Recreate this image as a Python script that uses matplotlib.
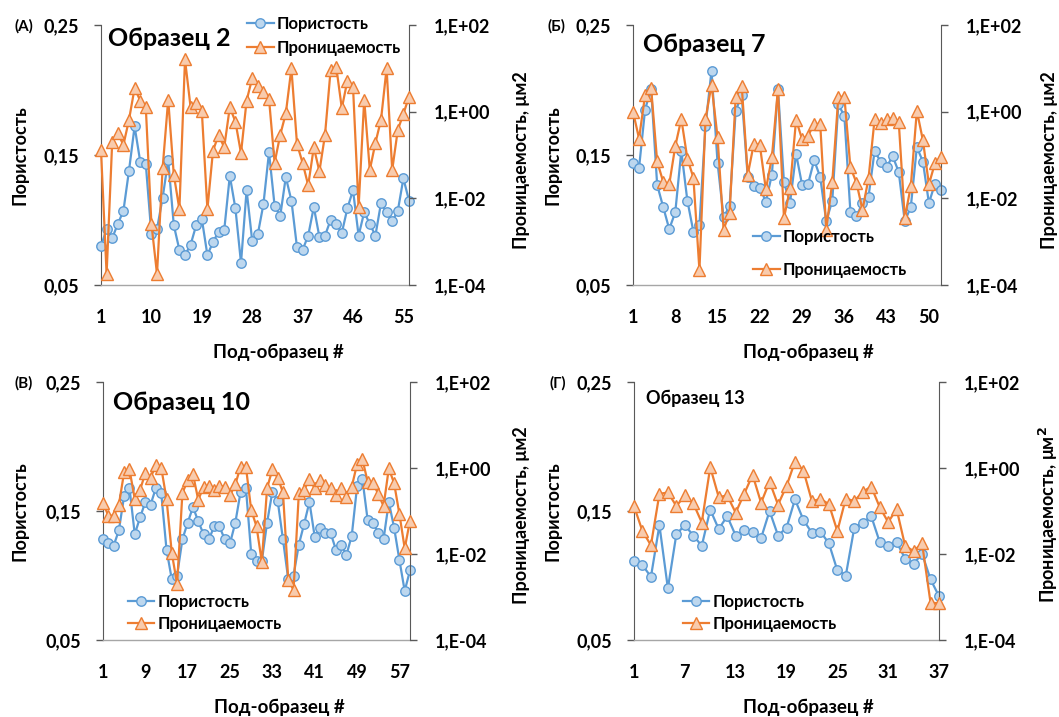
import numpy as np
import matplotlib
matplotlib.use("Agg")
import matplotlib.pyplot as plt
from matplotlib.ticker import NullLocator

plt.rcParams['font.family'] = ['Lato', 'DejaVu Sans']
plt.rcParams['font.weight'] = 'bold'

# ---------------- data ----------------
por_label = "Пористость"
perm_label = "Проницаемость"
xlabel = "Под-образец #"

titles = ["Образец 2", "Образец 7", "Образец 10", "Образец 13"]
panel_tags = ["(А)", "(Б)", "(В)", "(Г)"]

xticks_A = [1, 10, 19, 28, 37, 46, 55]
xticks_B = [1, 8, 15, 22, 29, 36, 43, 50]
xticks_C = [1, 9, 17, 25, 33, 41, 49, 57]
xticks_D = [1, 7, 13, 19, 25, 31, 37]

por_A = [0.080, 0.093, 0.086, 0.097, 0.107, 0.138, 0.172, 0.145, 0.143, 0.089,
         0.093, 0.117, 0.146, 0.096, 0.077, 0.073, 0.081, 0.096, 0.101, 0.073,
         0.083, 0.091, 0.092, 0.134, 0.109, 0.067, 0.123, 0.084, 0.089, 0.112,
         0.152, 0.111, 0.103, 0.133, 0.115, 0.079, 0.077, 0.088, 0.110, 0.087,
         0.088, 0.100, 0.097, 0.090, 0.109, 0.123, 0.088, 0.106, 0.097, 0.088,
         0.113, 0.106, 0.099, 0.107, 0.132, 0.115]
perm_A = [0.13, 1.8e-4, 0.20, 0.32, 0.17, 0.65, 3.5, 1.8, 1.26, 2.6e-3,
          1.8e-4, 0.049, 1.9, 0.035, 5.6e-3, 16, 1.26, 1.6, 1.05, 5.6e-3,
          0.126, 0.29, 0.15, 1.26, 0.59, 0.11, 1.8, 5.9, 4.0, 2.9,
          2.0, 0.066, 0.29, 0.91, 10, 0.18, 0.066, 0.020, 0.15, 0.042,
          0.29, 9.1, 11, 1.2, 5.2, 3.8, 6.2e-3, 1.9, 0.045, 0.19,
          0.65, 10, 0.045, 0.38, 0.89, 2.2]

por_B = [0.144, 0.140, 0.185, 0.201, 0.127, 0.110, 0.093, 0.106, 0.153, 0.115,
         0.091, 0.096, 0.172, 0.215, 0.144, 0.102, 0.111, 0.184, 0.196, 0.133,
         0.126, 0.125, 0.114, 0.135, 0.201, 0.129, 0.113, 0.151, 0.127, 0.128,
         0.146, 0.133, 0.099, 0.115, 0.189, 0.180, 0.106, 0.103, 0.113, 0.118,
         0.153, 0.145, 0.141, 0.149, 0.137, 0.099, 0.110, 0.156, 0.145, 0.113,
         0.128, 0.123]
perm_B = [1.0, 0.24, 2.4, 3.5, 0.071, 0.024, 0.021, 0.16, 0.68, 0.083,
          0.030, 2.2e-4, 0.66, 4.2, 0.26, 1.9e-3, 4.7e-3, 2.2, 4.0, 0.035,
          0.18, 0.17, 0.016, 0.089, 3.3, 3.5e-3, 0.017, 0.65, 0.23, 0.28,
          0.52, 0.52, 1.9e-3, 0.024, 2.2, 2.2, 0.052, 0.023, 5.4e-3, 0.029,
          0.66, 0.54, 0.66, 0.72, 0.59, 3.5e-3, 0.019, 1.05, 0.22, 0.021,
          0.065, 0.091]

por_C = [0.128, 0.125, 0.123, 0.135, 0.162, 0.168, 0.132, 0.145, 0.157, 0.155,
         0.168, 0.164, 0.120, 0.097, 0.100, 0.128, 0.141, 0.153, 0.142, 0.132,
         0.128, 0.138, 0.138, 0.128, 0.125, 0.141, 0.165, 0.168, 0.117, 0.111,
         0.111, 0.141, 0.165, 0.158, 0.128, 0.097, 0.100, 0.124, 0.140, 0.157,
         0.130, 0.137, 0.133, 0.133, 0.120, 0.124, 0.116, 0.131, 0.169, 0.175,
         0.143, 0.141, 0.133, 0.128, 0.157, 0.137, 0.112, 0.088, 0.104]
perm_C = [0.155, 0.078, 0.078, 0.14, 0.81, 0.93, 0.19, 0.31, 0.76, 0.60,
          1.17, 1.02, 0.19, 0.0105, 2.0e-3, 0.26, 0.52, 0.72, 0.18, 0.37,
          0.38, 0.31, 0.38, 0.37, 0.23, 0.42, 1.07, 1.07, 0.105, 0.044,
          6.6e-3, 0.34, 0.93, 0.60, 0.27, 2.5e-3, 1.45e-3, 0.26, 0.31, 0.55,
          0.34, 0.52, 0.40, 0.35, 0.23, 0.34, 0.21, 0.37, 1.23, 1.62,
          0.48, 0.44, 0.25, 0.13, 0.98, 0.44, 0.085, 0.0135, 0.060]

por_D = [0.111, 0.108, 0.099, 0.139, 0.090, 0.132, 0.139, 0.131, 0.123, 0.151,
         0.136, 0.146, 0.131, 0.135, 0.134, 0.129, 0.150, 0.131, 0.137, 0.159,
         0.143, 0.133, 0.134, 0.125, 0.104, 0.100, 0.137, 0.141, 0.146, 0.126,
         0.123, 0.126, 0.113, 0.109, 0.117, 0.097, 0.084]
perm_D = [0.13, 0.034, 0.016, 0.25, 0.27, 0.13, 0.23, 0.15, 0.054, 1.05,
          0.21, 0.23, 0.091, 0.25, 0.69, 0.155, 0.48, 0.14, 0.38, 1.41,
          0.87, 0.17, 0.19, 0.145, 0.034, 0.195, 0.17, 0.28, 0.37, 0.123,
          0.055, 0.11, 0.0155, 0.0117, 0.0178, 7.4e-4, 7.1e-4]

por_ticks = [0.05, 0.15, 0.25]
por_ticklabels = ["0,05", "0,15", "0,25"]
perm_ticks = [1e-4, 1e-2, 1e0, 1e2]
perm_ticklabels = ["1,E-04", "1,E-02", "1,E+00", "1,E+02"]

# ---------------- style ----------------
W, H = 1059, 717
BLUE, BLUE_F = "#5B9BD5", "#BDD7EE"
ORANGE, ORANGE_F = "#ED7D31", "#F8CBAD"
SPINE = "#595959"
AXGRAY = "#A6A6A6"

fig = plt.figure(figsize=(W / 100, H / 100), dpi=100)


def rect_px(x0, y0, x1, y1):
    return [x0 / W, 1 - y1 / H, (x1 - x0) / W, (y1 - y0) / H]


def ftext(x, y, s, **kw):
    fig.text(x / W, 1 - y / H, s, **kw)


panels = [
    dict(rect=(101, 25, 409, 285), por=por_A, perm=perm_A, xt=xticks_A,
         leg=(0.474, 1.035), lsp=0.5, title=(108, 38, 18), tag=(33, 26),
         ylab_l=(20, 155), ylab_r=(521, 160), xlab=(278, 352),
         rlab=perm_label + ", μм2"),
    dict(rect=(633, 25, 941, 285), por=por_B, perm=perm_B, xt=xticks_B,
         leg=(0.39, 0.215), lsp=1.0, title=(643, 45, 18), tag=(566, 26),
         ylab_l=(553, 155), ylab_r=(1049, 160), xlab=(808, 352),
         rlab=perm_label + ", μм2"),
    dict(rect=(103, 382, 410, 640), por=por_C, perm=perm_C, xt=xticks_C,
         leg=(0.08, 0.18), lsp=0.4, title=(113, 402, 18), tag=(33, 383),
         ylab_l=(20, 511), ylab_r=(521, 515), xlab=(279, 707),
         rlab=perm_label + ", μм2"),
    dict(rect=(634, 382, 939, 640), por=por_D, perm=perm_D, xt=xticks_D,
         leg=(0.16, 0.18), lsp=0.4, title=(646, 398, 13), tag=(566, 383),
         ylab_l=(553, 511), ylab_r=(1048, 515), xlab=(808, 707),
         rlab=perm_label + ", μм$^{2}$"),
]

for i, p in enumerate(panels):
    ax = fig.add_axes(rect_px(*p["rect"]))
    n = len(p["por"])
    x = np.arange(1, n + 1)
    l1, = ax.plot(x, p["por"], color=BLUE, lw=1.6, marker="o", ms=6.8,
                  mfc=BLUE_F, mec=BLUE, mew=1.0, clip_on=False, zorder=3)
    ax.set_ylim(0.05, 0.25)
    ax.set_xlim(1, n)
    ax.set_yticks(por_ticks)
    ax.set_yticklabels(por_ticklabels, fontweight="bold")
    ax.set_xticks(p["xt"])
    ax.set_xticklabels([str(t) for t in p["xt"]], fontweight="bold")
    ax.tick_params(axis="y", direction="out", length=5, width=1.0,
                   color=SPINE, pad=11, labelsize=13)
    ax.tick_params(axis="x", length=0, pad=17, labelsize=13)
    for s in ("top", "right"):
        ax.spines[s].set_visible(False)
    ax.spines["left"].set_color(SPINE)
    ax.spines["bottom"].set_color(AXGRAY)
    ax.spines["bottom"].set_linewidth(1.0)

    ax2 = ax.twinx()
    l2, = ax2.plot(x, p["perm"], color=ORANGE, lw=1.6, marker="^", ms=8,
                   mfc=ORANGE_F, mec=ORANGE, mew=1.0, clip_on=False, zorder=3)
    ax2.set_yscale("log")
    ax2.set_ylim(1e-4, 1e2)
    ax2.set_yticks(perm_ticks)
    ax2.set_yticklabels(perm_ticklabels, fontweight="bold")
    ax2.yaxis.set_minor_locator(NullLocator())
    ax2.tick_params(axis="y", direction="out", length=5, width=1.0,
                    color=SPINE, pad=13, labelsize=13)
    for s in ("top", "left", "bottom"):
        ax2.spines[s].set_visible(False)
    ax2.spines["right"].set_color(SPINE)

    ax2.legend([l1, l2], [por_label, perm_label], loc="upper left",
               bbox_to_anchor=p["leg"], frameon=False,
               prop={"size": 12, "weight": "bold"},
               handlelength=1.6, handletextpad=0.2, borderpad=0,
               borderaxespad=0, labelspacing=p["lsp"])

    tx, ty, tfs = p["title"]
    ftext(tx, ty, titles[i], fontsize=tfs, fontweight="bold", ha="left", va="center")
    ftext(p["tag"][0], p["tag"][1], panel_tags[i], fontsize=11, fontweight="bold",
          ha="right", va="center")
    ftext(p["ylab_l"][0], p["ylab_l"][1], por_label, fontsize=13, fontweight="bold",
          rotation=90, ha="center", va="center")
    ftext(p["ylab_r"][0], p["ylab_r"][1], p["rlab"], fontsize=13, fontweight="bold",
          rotation=90, ha="center", va="center")
    ftext(p["xlab"][0], p["xlab"][1], xlabel, fontsize=13.5, fontweight="bold",
          ha="center", va="center")

fig.savefig("out.png", dpi=100)
